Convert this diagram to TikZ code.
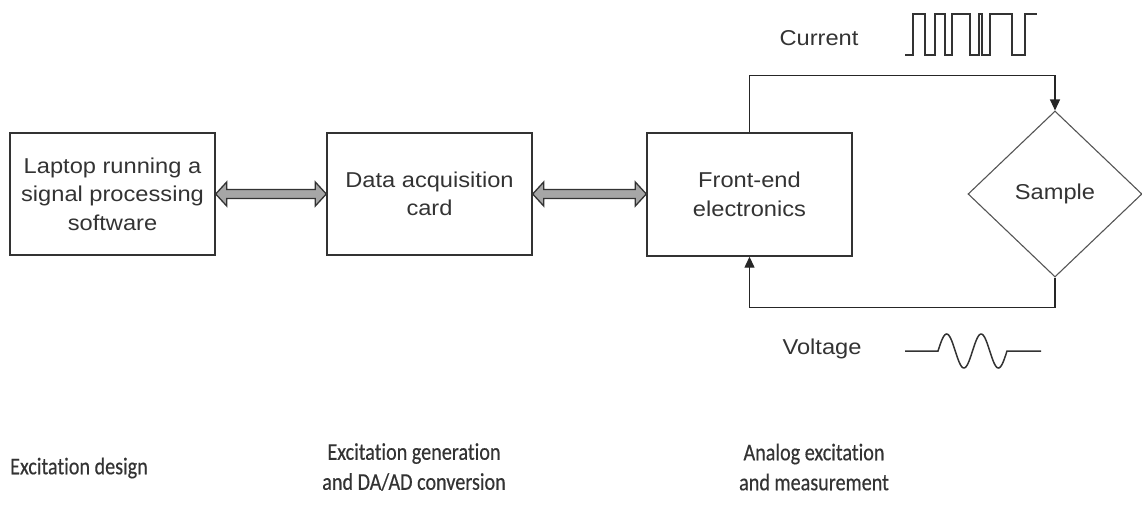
\documentclass[tikz,border=0pt]{standalone}
\usepackage{fontspec}
\usetikzlibrary{shapes.geometric,arrows.meta,calc}
\newfontfamily\arialf[FakeStretch=1.1]{Liberation Sans}
\newfontfamily\califf[FakeStretch=0.84,FakeBold=0.4,Ligatures=NoCommon]{Carlito}
\definecolor{ink}{HTML}{333333}
\definecolor{dgray}{HTML}{555555}
\definecolor{afill}{HTML}{A6A6A6}
\begin{document}
\begin{tikzpicture}[x=1pt,y=-1pt,
  box/.style={draw=ink, line width=1.4pt, minimum width=205pt, minimum height=122pt,
    inner sep=0pt, align=center, font=\arialf\fontsize{21.5}{28.5}\selectfont, text=ink},
  samp/.style={diamond, draw=dgray, line width=1.1pt, minimum width=174pt, minimum height=166pt,
    inner sep=0pt, font=\arialf\fontsize{21.5}{28.5}\selectfont, text=ink},
  lbl/.style={font=\arialf\fontsize{21.5}{28.5}\selectfont, text=ink, inner sep=0pt},
  captxt/.style={font=\califf\fontsize{24}{30}\selectfont, text=ink, align=center, inner sep=0pt},
  darr/.style={draw=ink, line width=1.3pt, fill=afill, line join=miter},
  conn/.style={draw=black!85, line width=1.3pt, -{Triangle[length=11pt,width=10pt]}},
  wave/.style={draw=ink, line width=1.5pt, line join=miter}]
\useasboundingbox (0,0) rectangle (1142,504);

\node[box] (lap) at (112.5,194) {Laptop running a\\signal processing\\software};
\node[box] (daq) at (429.5,194) {Data acquisition\\card};
\node[box, minimum height=123pt] (fe) at (749.5,194.5) {Front-end\\electronics};
\node[samp] (s) at (1055,194) {Sample};

% double arrows
\coordinate (A1) at (lap.east);
\coordinate (B1) at (daq.west);
\coordinate (A2) at (daq.east);
\coordinate (B2) at (fe.west|-daq.east);
\foreach \a/\b in {A1/B1, A2/B2}{
  \draw[darr] (\a) -- ($(\a)+(11,-12)$) -- ($(\a)+(11,-4.5)$) -- ($(\b)+(-11,-4.5)$)
    -- ($(\b)+(-11,-12)$) -- (\b) -- ($(\b)+(-11,12)$) -- ($(\b)+(-11,4.5)$)
    -- ($(\a)+(11,4.5)$) -- ($(\a)+(11,12)$) -- cycle;
}

% connectors
\draw[conn] (fe.north) -- ++(0,-57) -| (s.north);
\draw[conn] (s.south) -- ++(0,30) -| (fe.south);

% labels
\node[lbl] (cur) at (819,38) {Current};
\node[lbl] (vol) at (822,349) {Voltage};

% current square wave
\draw[wave] (905,55) -- (913,55) -- (913,14) -- (925,14) -- (925,55) -- (935,55) -- (935,14)
  -- (945,14) -- (945,55) -- (952,55) -- (952,14) -- (970,14) -- (970,55) -- (979,55)
  -- (979,14) -- (982,14) -- (982,55) -- (990,55) -- (990,14) -- (1012,14) -- (1012,55)
  -- (1025,55) -- (1025,14) -- (1037,14);

% voltage wave
\draw[wave] (905,351) -- (938,351)
  -- plot[domain=0:69, samples=90, smooth] ({938+\x}, {351-17*sin(10.4348*\x)})
  -- (1041,351);

% captions
\node[captxt, anchor=west] (c1) at (10,468) {Excitation design};
\node[captxt] (c2) at (414,467) {Excitation generation\\and DA/AD conversion};
\node[captxt] (c3) at (814,467) {Analog excitation\\and measurement};
\end{tikzpicture}
\end{document}
